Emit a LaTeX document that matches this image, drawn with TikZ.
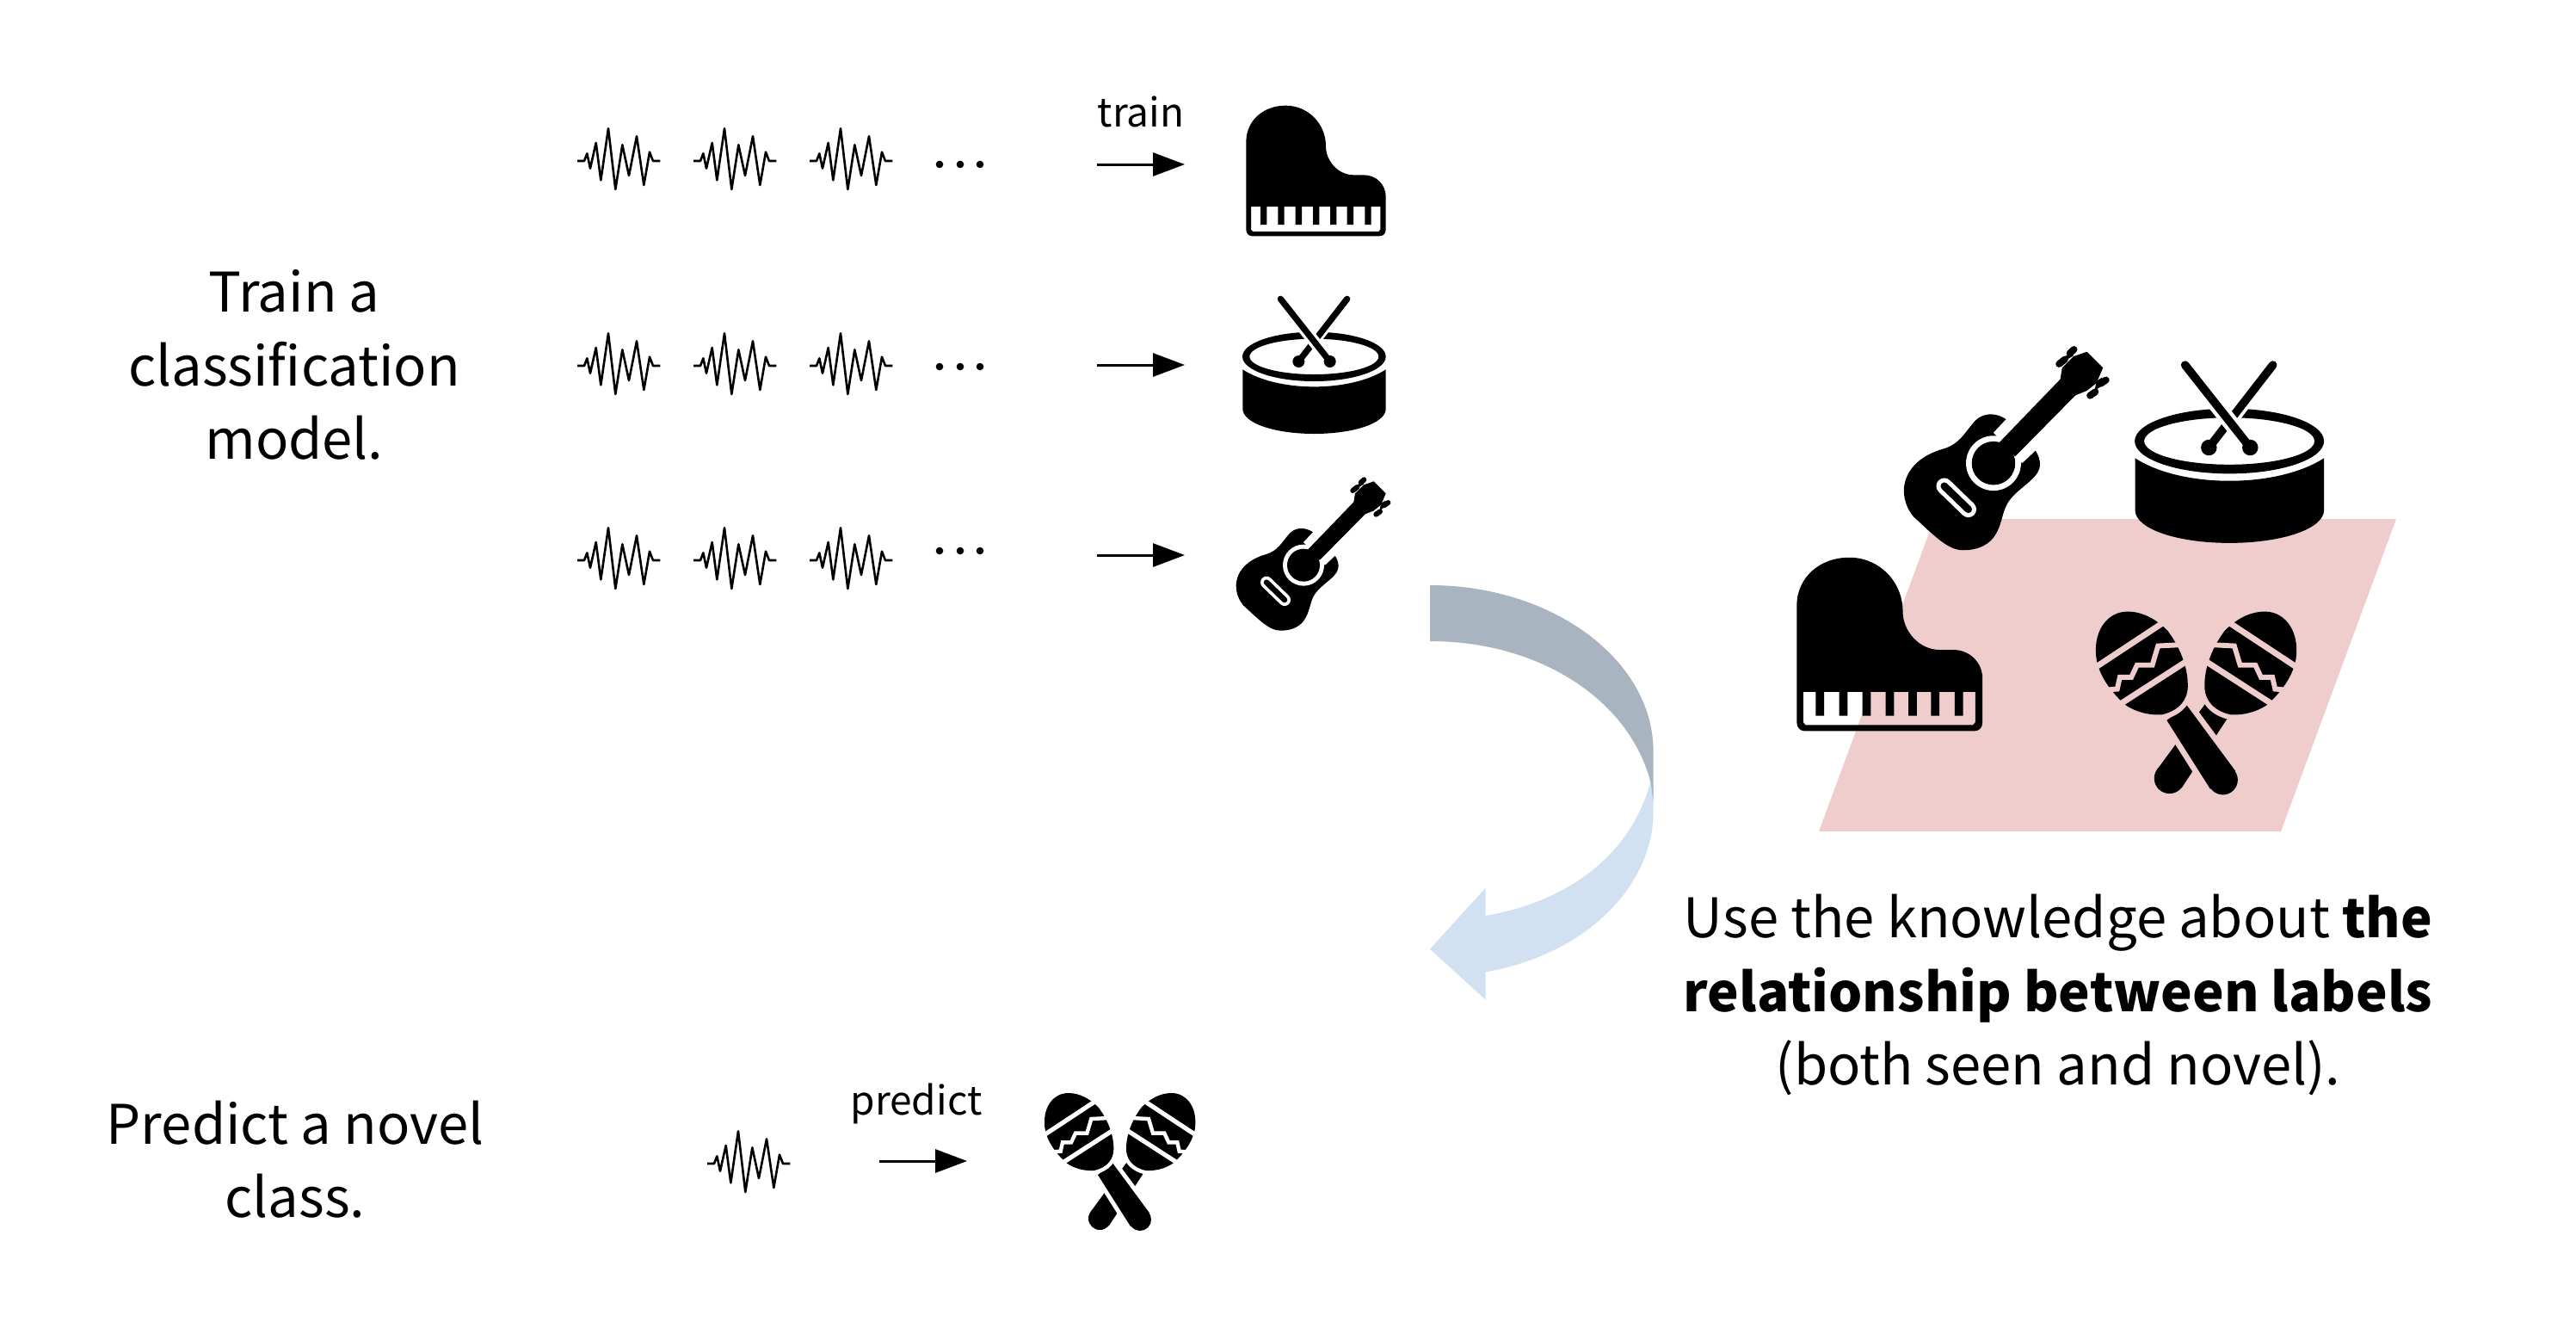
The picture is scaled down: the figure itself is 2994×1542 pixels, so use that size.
\documentclass[tikz,border=0pt]{standalone}
\usepackage{fontspec}
\setmainfont{Noto Sans CJK JP}
\usetikzlibrary{arrows.meta}
\definecolor{pinkbg}{RGB}{239,205,205}
\definecolor{darkflow}{RGB}{168,180,192}
\definecolor{lightflow}{RGB}{210,225,241}
\newcommand{\boldbit}[1]{{\fontsize{61.8}{85.5}\selectfont\bfseries #1}}
\tikzset{
  flowline/.style={line width=3pt,-{Triangle[length=37pt,width=27pt]}},
  bigtext/.style={font=\fontsize{63.4}{85.5}\selectfont,align=center,anchor=center,inner sep=0pt},
  smalltext/.style={font=\fontsize{46}{56}\selectfont,anchor=base,inner sep=0pt},
  wavedraw/.style={line width=2.6pt,line join=round,draw=black}
}
% wave: x of start, y of baseline
\newcommand{\wavesig}[2]{%
  \begin{scope}[shift={(#1,#2)},scale=1/3]
  \draw[wavedraw] (0,0)--(24,0)--(34,-26)--(45,26)--(65,-63)--(82,67)--(108,-113)--(133,99)--(157,-56)--(180,51)--(207,-86)--(232,84)--(252,-31)--(264,0)--(289,0);
  \end{scope}}
\newcommand{\pianoicon}[3]{%
  \begin{scope}[shift={(#1,#2)},scale=#3/3]
  \fill[black,even odd rule] (145,255) .. controls (145,180) and (205,128) .. (283,128) .. controls (360,128) and (423,190) .. (423,270) .. controls (423,320) and (465,370) .. (520,370) -- (555,370) .. controls (600,370) and (632,405) .. (632,445) -- (632,560) .. controls (632,575) and (622,583) .. (610,583) -- (167,583) .. controls (155,583) and (145,575) .. (145,560) -- cycle
  (162,480) -- (195,480) -- (195,543) -- (217,543) -- (217,480) -- (256,480) -- (256,543) -- (278,543) -- (278,480) -- (317,480) -- (317,543) -- (339,543) -- (339,480) -- (378,480) -- (378,543) -- (400,543) -- (400,480) -- (438,480) -- (438,543) -- (460,543) -- (460,480) -- (497,480) -- (497,543) -- (519,543) -- (519,480) -- (559,480) -- (559,543) -- (581,543) -- (581,480) -- (613,480) -- (613,560) -- (607,567) -- (168,567) -- (162,560) -- cycle;
  \end{scope}}
\newcommand{\drumicon}[3]{%
  \begin{scope}[shift={(#1,#2)},scale=#3/3]
  \fill[black] (133,328) .. controls (190,365) and (280,388) .. (382,388) .. controls (484,388) and (575,365) .. (632,328) -- (632,465) .. controls (632,515) and (520,552) .. (382,552) .. controls (245,552) and (133,515) .. (133,465) -- cycle;
  \fill[black,even odd rule] (382,283) ellipse [x radius=250,y radius=86] (382,283) ellipse [x radius=225,y radius=62];
  \draw[white,line width=#3*13pt] (480,104) -- (370,246);
  \draw[black,line width=#3*7.3pt,line cap=round] (497,82) -- (328,300);
  \fill[black] (328,300) circle [radius=21];
  \draw[white,line width=#3*14pt] (265,82) -- (437,300);
  \draw[black,line width=#3*7.3pt,line cap=round] (265,82) -- (437,300);
  \fill[black] (437,300) circle [radius=21];
  \end{scope}}
\newcommand{\guitaricon}[3]{%
  \begin{scope}[shift={(#1,#2)},scale=#3/3]
  \fill[black] (265,578) .. controls (225,578) and (190,540) .. (135,490) .. controls (115,465) and (110,440) .. (110,420) .. controls (112,370) and (150,330) .. (215,312) .. controls (255,300) and (270,270) .. (290,247) .. controls (310,218) and (350,212) .. (385,240) -- (445,305) .. controls (465,325) and (470,350) .. (465,365) .. controls (455,395) and (410,415) .. (385,450) .. controls (365,480) and (370,510) .. (345,545) .. controls (325,570) and (295,578) .. (265,578) -- cycle;
  % neck halo and sound hole ring
  \fill[white] (345,350) circle [radius=72];
  \fill[white] (345,270) -- (510,95) -- (600,180) -- (420,350) -- cycle;
  \fill[black] (345,350) circle [radius=57];
  \fill[black] (360,296) -- (520,130) -- (525,100) -- (555,70) -- (590,58) -- (632,100) -- (615,140) -- (590,160) -- (560,172) -- (402,332) -- cycle;
  % pegs
  \draw[black,line width=#3*6pt,line cap=round] (517,90) -- (532,78);
  \draw[black,line width=#3*6pt,line cap=round] (545,62) -- (556,52);
  \draw[black,line width=#3*6pt,line cap=round] (625,142) -- (640,132);
  \draw[black,line width=#3*6pt,line cap=round] (598,173) -- (612,163);
  \fill[black] (535,80) -- (555,68) -- (548,60) -- (530,72) -- cycle;
  \fill[black] (615,135) -- (630,125) -- (622,152) -- (610,160) -- cycle;
  % bridge slot
  \draw[white,line width=#3*14pt,line cap=round] (216,410) -- (279,471);
  \draw[black,line width=#3*6.5pt,line cap=round] (216,410) -- (279,471);
  \end{scope}}
\newcommand{\maracahead}[2]{%
  \draw[#2,line width=#1*9pt,line join=round] (155,60) .. controls (105,60) and (70,105) .. (72,165) .. controls (72,215) and (105,265) .. (150,305) .. controls (180,325) and (215,332) .. (245,330) .. controls (290,320) and (315,290) .. (313,250) .. controls (312,200) and (290,150) .. (260,110) .. controls (230,80) and (195,60) .. (155,60) -- cycle;
  \fill[black] (155,60) .. controls (105,60) and (70,105) .. (72,165) .. controls (72,215) and (105,265) .. (150,305) .. controls (180,325) and (215,332) .. (245,330) .. controls (290,320) and (315,290) .. (313,250) .. controls (312,200) and (290,150) .. (260,110) .. controls (230,80) and (195,60) .. (155,60) -- cycle;
  \draw[#2,line width=#1*5.2pt] (68,208) -- (250,88);
  \draw[#2,line width=#1*5.2pt] (135,303) -- (318,185);
  \draw[#2,line width=#1*4.4pt] (100,265) -- (128,263) -- (135,232) -- (165,232) -- (180,200) -- (220,200) -- (235,150) -- (295,147);
}
\newcommand{\maracaicon}[4]{%
  \begin{scope}[shift={(#1,#2)},scale=#3/3]
  \fill[black] (232,475) -- (360,300) -- (420,335) -- (297,522) -- cycle;
  \fill[black] (265,497) circle [radius=40];
  \draw[#4,line width=#3*10pt,line join=round] (258,345) -- (310,305) -- (438,478) -- (372,525) -- cycle;
  \fill[black] (258,345) -- (310,305) -- (438,478) -- (372,525) -- cycle;
  \fill[black] (405,501) circle [radius=39];
  \begin{scope}[shift={(670,0)},xscale=-1]\maracahead{#3}{#4}\end{scope}
  \maracahead{#3}{#4}
  \end{scope}}
\begin{document}
\begin{tikzpicture}[x=1pt,y=-1pt]
\useasboundingbox (0,0) rectangle (2994,1542);
\fill[white] (0,0) rectangle (2994,1542);
% label plane
\fill[pinkbg] (2248,603) -- (2785,603) -- (2651,966) -- (2114,966) -- cycle;
% waves
\foreach \yy in {187,425,651}{\foreach \xx in {671,806,941}{\wavesig{\xx}{\yy}}}
\wavesig{822}{1352}
% dots
\foreach \yy in {191,426,640}{\foreach \xx in {1092,1116,1139}{\fill[black] (\xx,\yy) circle [radius=4.3];}}
% arrows
\coordinate (t1a) at (1275,191); \coordinate (t1b) at (1377,191);
\coordinate (t2a) at (1275,424); \coordinate (t2b) at (1377,424);
\coordinate (t3a) at (1275,645); \coordinate (t3b) at (1377,645);
\coordinate (pa) at (1022,1349); \coordinate (pb) at (1124,1349);
\draw[flowline] (t1a) -- (t1b);
\draw[flowline] (t2a) -- (t2b);
\draw[flowline] (t3a) -- (t3b);
\draw[flowline] (pa) -- (pb);
% icons
\pianoicon{1400}{80}{1}
\drumicon{1400}{320}{1}
\guitaricon{1400}{540}{1}
\maracaicon{1190}{1250}{1}{white}
\guitaricon{2164}{383}{1.33}
\drumicon{2423}{388}{1.32}
\pianoicon{2024}{591}{1.33}
\maracaicon{2404}{684}{1.33}{pinkbg}
% curved arrow
\begin{scope}[shift={(1640,660)},scale=1/3]
\fill[lightflow] (845,760) -- (845,850) .. controls (845,1100) and (620,1345) .. (260,1408) -- (260,1505) -- (66,1328) -- (260,1115) -- (260,1212) .. controls (560,1160) and (770,990) .. (835,745) -- cycle;
\fill[darkflow] (66,60) .. controls (494,60) and (845,321) .. (845,640) -- (845,815) .. controls (840,780) and (838,760) .. (835,745) .. controls (760,460) and (450,255) .. (66,255) -- cycle;
\end{scope}
% texts
\node[bigtext] (lefttop) at (342,424) {Train a\\classification\\model.};
\node[bigtext] (leftbot) at (343,1347) {Predict a novel\\class.};
\node[bigtext] (right) at (2392,1156) {Use the knowledge about \boldbit{the}\\\boldbit{relationship between labels}\\(both seen and novel).};
\node[smalltext] (train) at (1326,147) {train};
\node[smalltext] (predict) at (1065,1295) {predict};
\end{tikzpicture}
\end{document}
